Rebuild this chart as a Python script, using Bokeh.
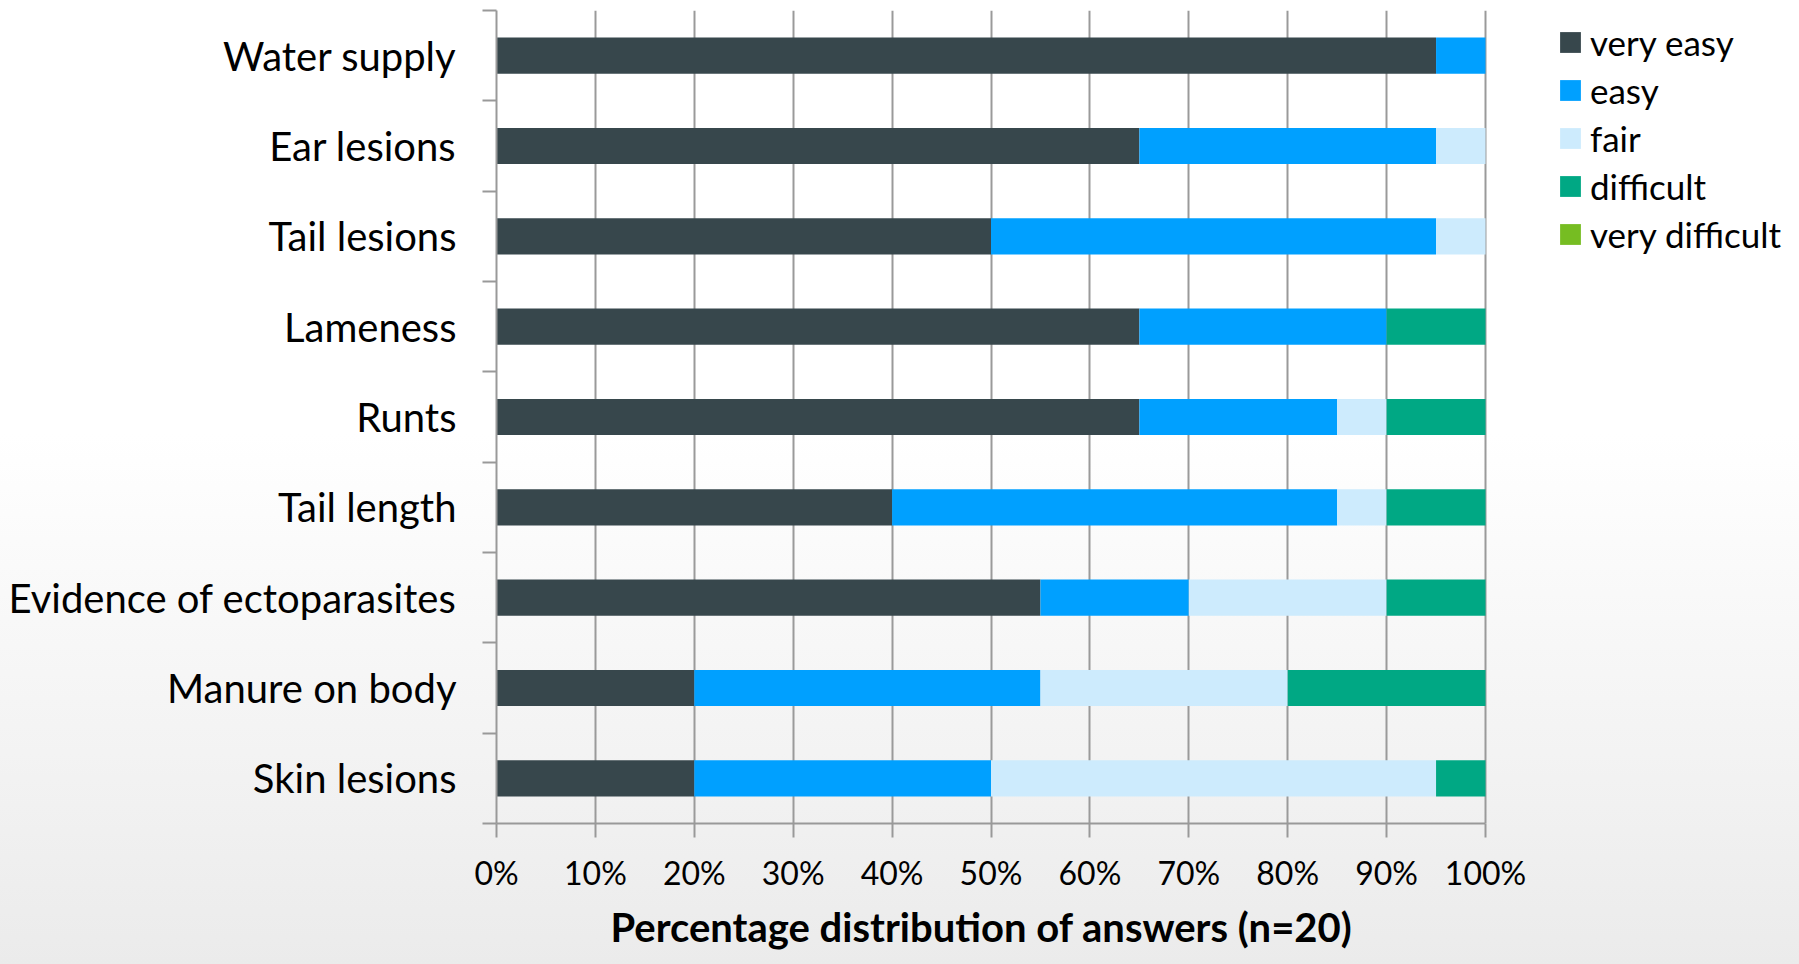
from bokeh.plotting import figure
from bokeh.models import (ColumnDataSource, FixedTicker, PrintfTickFormatter, Range1d,
                          Legend, LegendItem, Title)
from bokeh.embed import file_html
from bokeh.resources import INLINE

# Survey: how easy is each welfare indicator to assess (n=20), share of answers in %
categories = ["Water supply", "Ear lesions", "Tail lesions", "Lameness", "Runts",
              "Tail length", "Evidence of ectoparasites", "Manure on body", "Skin lesions"]
very_easy = [95, 65, 50, 65, 65, 40, 55, 20, 20]
easy = [5, 30, 45, 25, 20, 45, 15, 35, 30]
fair = [0, 5, 5, 0, 5, 5, 20, 25, 45]
difficult = [0, 0, 0, 10, 10, 10, 10, 20, 5]
very_difficult = [0, 0, 0, 0, 0, 0, 0, 0, 0]

answer_labels = ["very easy", "easy", "fair", "difficult", "very difficult"]
answer_keys = ["very_easy", "easy", "fair", "difficult", "very_difficult"]
colors = ["#37474c", "#00a0ff", "#cdebfd", "#00a884", "#76bd22"]
x_ticks = [0, 10, 20, 30, 40, 50, 60, 70, 80, 90, 100]
x_title = "Percentage distribution of answers (n=20)"

FONT = "Lato"
n = len(categories)
pos = [n - i for i in range(n)]  # first category on top

source = ColumnDataSource(dict(
    pos=pos, cat=categories,
    very_easy=very_easy, easy=easy, fair=fair,
    difficult=difficult, very_difficult=very_difficult,
))

# The frame runs to the right edge so the legend can sit beside the bars;
# the percentage scale itself (axis, grid) is bounded to 0..100.
LEFT, SCALE_PX, WIDTH = 496, 989, 1799
x_end = 100 * (WIDTH - LEFT) / SCALE_PX

p = figure(width=WIDTH, height=964, output_backend="svg", toolbar_location=None,
           x_range=Range1d(0, x_end), y_range=Range1d(0.5, n + 0.5),
           min_border_left=LEFT, min_border_right=0,
           min_border_top=10, min_border_bottom=141)

p.background_fill_alpha = 0
p.border_fill_alpha = 0
p.outline_line_color = None
p.styles = {"background": "linear-gradient(to bottom, #ffffff 0%, #ffffff 45%, #ebebeb 100%)"}

bars = p.hbar_stack(answer_keys, y="pos", height=0.4, color=colors, line_alpha=0,
                    source=source)

# x axis: percentages
p.xaxis.bounds = (0, 100)
p.xaxis.ticker = FixedTicker(ticks=x_ticks)
p.xaxis.formatter = PrintfTickFormatter(format="%d%%")
p.xaxis.major_label_text_font = FONT
p.xaxis.major_label_text_font_size = "32px"
p.xaxis.major_label_text_color = "#000000"
p.xaxis.major_label_standoff = 15
p.xaxis.major_tick_out = 14
p.xaxis.major_tick_in = 0
p.xaxis.minor_tick_line_color = None
p.xaxis.axis_line_color = "#999999"
p.xaxis.axis_line_width = 2
p.xaxis.major_tick_line_color = "#999999"
p.xaxis.major_tick_line_width = 2

# axis title centred under the 0..100 scale
p.add_layout(Title(text=x_title, align="left", offset=114, standoff=12,
                   text_font=FONT, text_font_style="bold", text_font_size="40px",
                   text_color="#000000"), "below")

# y axis: labels at bar centres, tick marks between categories
p.yaxis.ticker = FixedTicker(ticks=pos, minor_ticks=[k + 0.5 for k in range(n + 1)])
p.yaxis.major_label_overrides = {pp: c for pp, c in zip(pos, categories)}
p.yaxis.major_label_text_font = FONT
p.yaxis.major_label_text_font_size = "40px"
p.yaxis.major_label_text_color = "#000000"
p.yaxis.major_label_standoff = 26
p.yaxis.major_tick_line_color = None
p.yaxis.minor_tick_out = 14
p.yaxis.minor_tick_in = 0
p.yaxis.minor_tick_line_color = "#999999"
p.yaxis.minor_tick_line_width = 2
p.yaxis.axis_line_color = "#999999"
p.yaxis.axis_line_width = 2

p.xgrid.ticker = FixedTicker(ticks=x_ticks)
p.xgrid.grid_line_color = "#9a9a9a"
p.xgrid.grid_line_width = 2
p.ygrid.grid_line_color = None

legend = Legend(
    items=[LegendItem(label=lab, renderers=[r]) for lab, r in zip(answer_labels, bars)],
    location=(1061, 568),
    background_fill_alpha=0, border_line_color=None,
    padding=0, margin=0,
    glyph_width=26, glyph_height=26, label_height=26,
    spacing=6, label_standoff=7,
    label_text_font=FONT, label_text_font_size="35px", label_text_color="#000000",
)
p.add_layout(legend)

open("out.html", "w").write(file_html(p, INLINE))
